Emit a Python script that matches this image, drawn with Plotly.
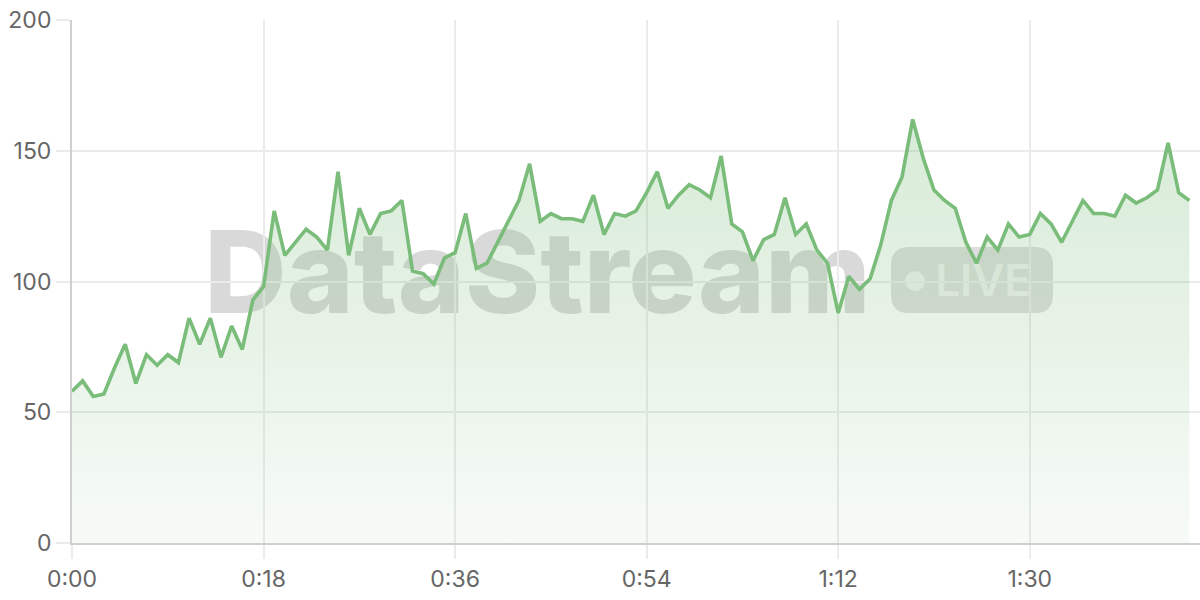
import plotly.graph_objects as go

# ---- data ----
seconds = list(range(106))
values = [
    58, 62, 56, 57, 67, 76, 61, 72, 68, 72,
    69, 86, 76, 86, 71, 83, 74, 93, 98, 127,
    110, 115, 120, 117, 112, 142, 110, 128, 118, 126,
    127, 131, 104, 103, 99, 109, 111, 126, 105, 107,
    115, 123, 131, 145, 123, 126, 124, 124, 123, 133,
    118, 126, 125, 127, 134, 142, 128, 133, 137, 135,
    132, 148, 122, 119, 108, 116, 118, 132, 118, 122,
    112, 107, 88, 102, 97, 101, 114, 131, 140, 162,
    147, 135, 131, 128, 115, 107, 117, 112, 122, 117,
    118, 126, 122, 115, 123, 131, 126, 126, 125, 133,
    130, 132, 135, 153, 134, 131,
]
tick_vals = [0, 18, 36, 54, 72, 90]
tick_text = ["0:00", "0:18", "0:36", "0:54", "1:12", "1:30"]
y_ticks = [0, 50, 100, 150, 200]

W, H = 1200, 600
ML, MR, MT, MB = 72, 0, 20, 57
PW, PH = W - ML - MR, H - MT - MB


def px(x):
    return (x - ML) / PW


def py(y):
    return (H - MB - y) / PH


fig = go.Figure()
fig.add_trace(go.Scatter(
    x=seconds, y=values, mode="lines",
    line=dict(color="rgb(122,188,122)", width=3.6),
    fill="tozeroy",
    fillgradient=dict(type="vertical", colorscale=[
        [0, "rgba(122,188,122,0.06)"], [1, "rgba(122,188,122,0.30)"]]),
    hoverinfo="skip", showlegend=False,
))

# watermark (drawn below the data)
shapes = []
shapes.append(dict(
    type="rect", xref="paper", yref="paper", layer="below",
    x0=px(200), x1=px(875), y0=py(314), y1=py(220),
    line=dict(width=0), fillcolor="rgba(0,0,0,0)",
    label=dict(text="DataStream", textposition="middle center",
               font=dict(family="Inter", size=114, weight=800,
                         color="rgba(0,0,0,0.15)")),
))
# rounded badge
bx0, bx1, by0, by1, r = 891, 1053, 247, 313, 18
rx, ry = r / PW, r / PH
X0, X1, Y0, Y1 = px(bx0), px(bx1), py(by1), py(by0)
path = (f"M {X0+rx},{Y0} L {X1-rx},{Y0} Q {X1},{Y0} {X1},{Y0+ry} "
        f"L {X1},{Y1-ry} Q {X1},{Y1} {X1-rx},{Y1} L {X0+rx},{Y1} "
        f"Q {X0},{Y1} {X0},{Y1-ry} L {X0},{Y0+ry} Q {X0},{Y0} {X0+rx},{Y0} Z")
shapes.append(dict(type="path", xref="paper", yref="paper", layer="below",
                   path=path, line=dict(width=0), fillcolor="rgba(0,0,0,0.13)"))
cr = 10
shapes.append(dict(type="circle", xref="paper", yref="paper", layer="below",
                   x0=px(915 - cr), x1=px(915 + cr), y0=py(281 + cr), y1=py(281 - cr),
                   line=dict(width=0), fillcolor="rgba(255,255,255,0.6)"))
shapes.append(dict(
    type="rect", xref="paper", yref="paper", layer="below",
    x0=px(934), x1=px(1032), y0=py(300), y1=py(258),
    line=dict(width=0), fillcolor="rgba(0,0,0,0)",
    label=dict(text="LIVE", textposition="middle center",
               font=dict(family="Inter", size=44, weight=600,
                         color="rgba(255,255,255,0.6)")),
))

axis_font = dict(family="Inter", size=23, color="#666666")
fig.update_layout(
    width=W, height=H,
    margin=dict(l=ML, r=MR, t=MT, b=MB, autoexpand=False),
    paper_bgcolor="white", plot_bgcolor="white",
    shapes=shapes,
    xaxis=dict(range=[0, 106], tickvals=tick_vals, ticktext=tick_text,
               showgrid=True, gridcolor="#ebebeb", gridwidth=1.5,
               ticks="outside", ticklen=14, tickcolor="#ebebeb", tickwidth=1.5,
               showline=True, linecolor="#cfcfcf", linewidth=2,
               zeroline=False, tickfont=axis_font, automargin=False),
    yaxis=dict(range=[0, 200], tickvals=y_ticks,
               showgrid=True, gridcolor="#ebebeb", gridwidth=1.5,
               ticks="outside", ticklen=14, tickcolor="#ebebeb", tickwidth=1.5,
               showline=True, linecolor="#cfcfcf", linewidth=2,
               zeroline=False, tickfont=axis_font, automargin=False),
)

fig.write_html("out.html", config={"displayModeBar": False},
               post_script="document.body.style.margin='0';")
